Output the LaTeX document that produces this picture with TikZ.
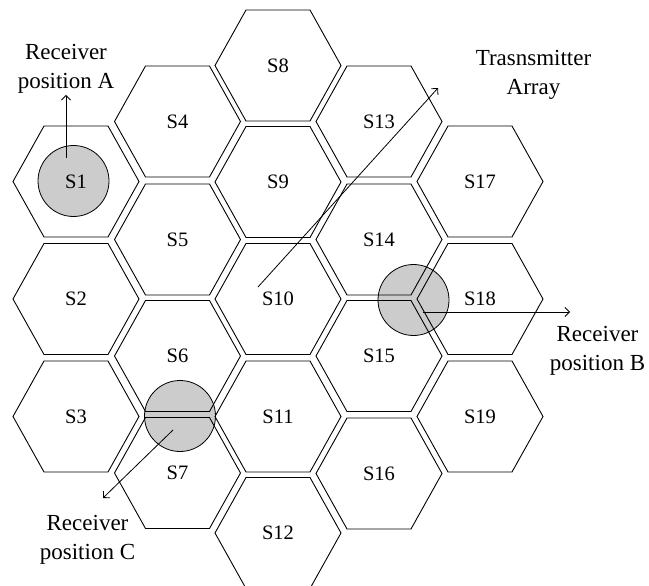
\documentclass[tikz,border=0pt]{standalone}
\usepackage{fontspec}
\setmainfont{Liberation Serif}
\usetikzlibrary{arrows.meta}
\newcommand\hexcell[4]{%
  \draw[hexedge] (#1-63,#2) -- (#1-32,#2-55.5) -- (#1+32,#2-55.5) -- (#1+63,#2)
    -- (#1+32,#2+55.5) -- (#1-32,#2+55.5) -- cycle;
  \node[cell] (#3) at (#1,#2) {#4};}
\begin{document}
\begin{tikzpicture}[x=1pt,y=-1pt,
  hexedge/.style={draw=black,line width=0.9pt,line join=miter},
  cell/.style={inner sep=0pt,font=\fontsize{20.5}{24}\selectfont},
  rx/.style={circle,draw=black,fill=black!20,line width=0.8pt,minimum size=71pt,inner sep=0pt},
  lbl/.style={align=center,inner sep=0pt,font=\fontsize{23}{29}\selectfont},
  arr/.style={-{Straight Barb[length=4.5pt,width=9pt]},line width=0.8pt}]
\useasboundingbox (0,0) rectangle (649,586);
% receiver circles (under the cells)
\node[rx] (ca) at (73.5,181) {};
\node[rx] (cb) at (413.5,300) {};
\node[rx] (cc) at (180,416) {};
% column 1
\hexcell{76}{181.5}{s1}{S1}
\hexcell{76}{299}{s2}{S2}
\hexcell{76}{416.5}{s3}{S3}
% column 2
\hexcell{177.5}{121.5}{s4}{S4}
\hexcell{177.5}{239.5}{s5}{S5}
\hexcell{177.5}{356}{s6}{S6}
\hexcell{177.5}{473}{s7}{S7}
% column 3
\hexcell{278}{65.5}{s8}{S8}
\hexcell{278}{182}{s9}{S9}
\hexcell{278}{299}{s10}{S10}
\hexcell{278}{416.5}{s11}{S11}
\hexcell{278}{533}{s12}{S12}
% column 4
\hexcell{379}{121.5}{s13}{S13}
\hexcell{379}{239.5}{s14}{S14}
\hexcell{379}{356}{s15}{S15}
\hexcell{379}{473.5}{s16}{S16}
% column 5
\hexcell{480}{181.5}{s17}{S17}
\hexcell{480}{299}{s18}{S18}
\hexcell{480}{416.5}{s19}{S19}
% labels
\node[lbl] (la) at (66,69) {Receiver\\position A};
\node[lbl] (lt) at (533.5,75) {Trasnsmitter\\Array};
\node[lbl] (lb) at (597.5,350.5) {Receiver\\position B};
\node[lbl] (lc) at (87.5,540) {Receiver\\position C};
% arrows
\coordinate (a0) at (66,158);   \coordinate (a1) at (66,95);
\coordinate (t0) at (258,287);  \coordinate (t1) at (438,88);
\coordinate (b0) at (423,312);  \coordinate (b1) at (570,312);
\coordinate (c0) at (173,430);  \coordinate (c1) at (103,498);
\draw[arr] (a0) -- (a1);
\draw[arr] (t0) -- (t1);
\draw[arr] (b0) -- (b1);
\draw[arr] (c0) -- (c1);
\end{tikzpicture}
\end{document}
